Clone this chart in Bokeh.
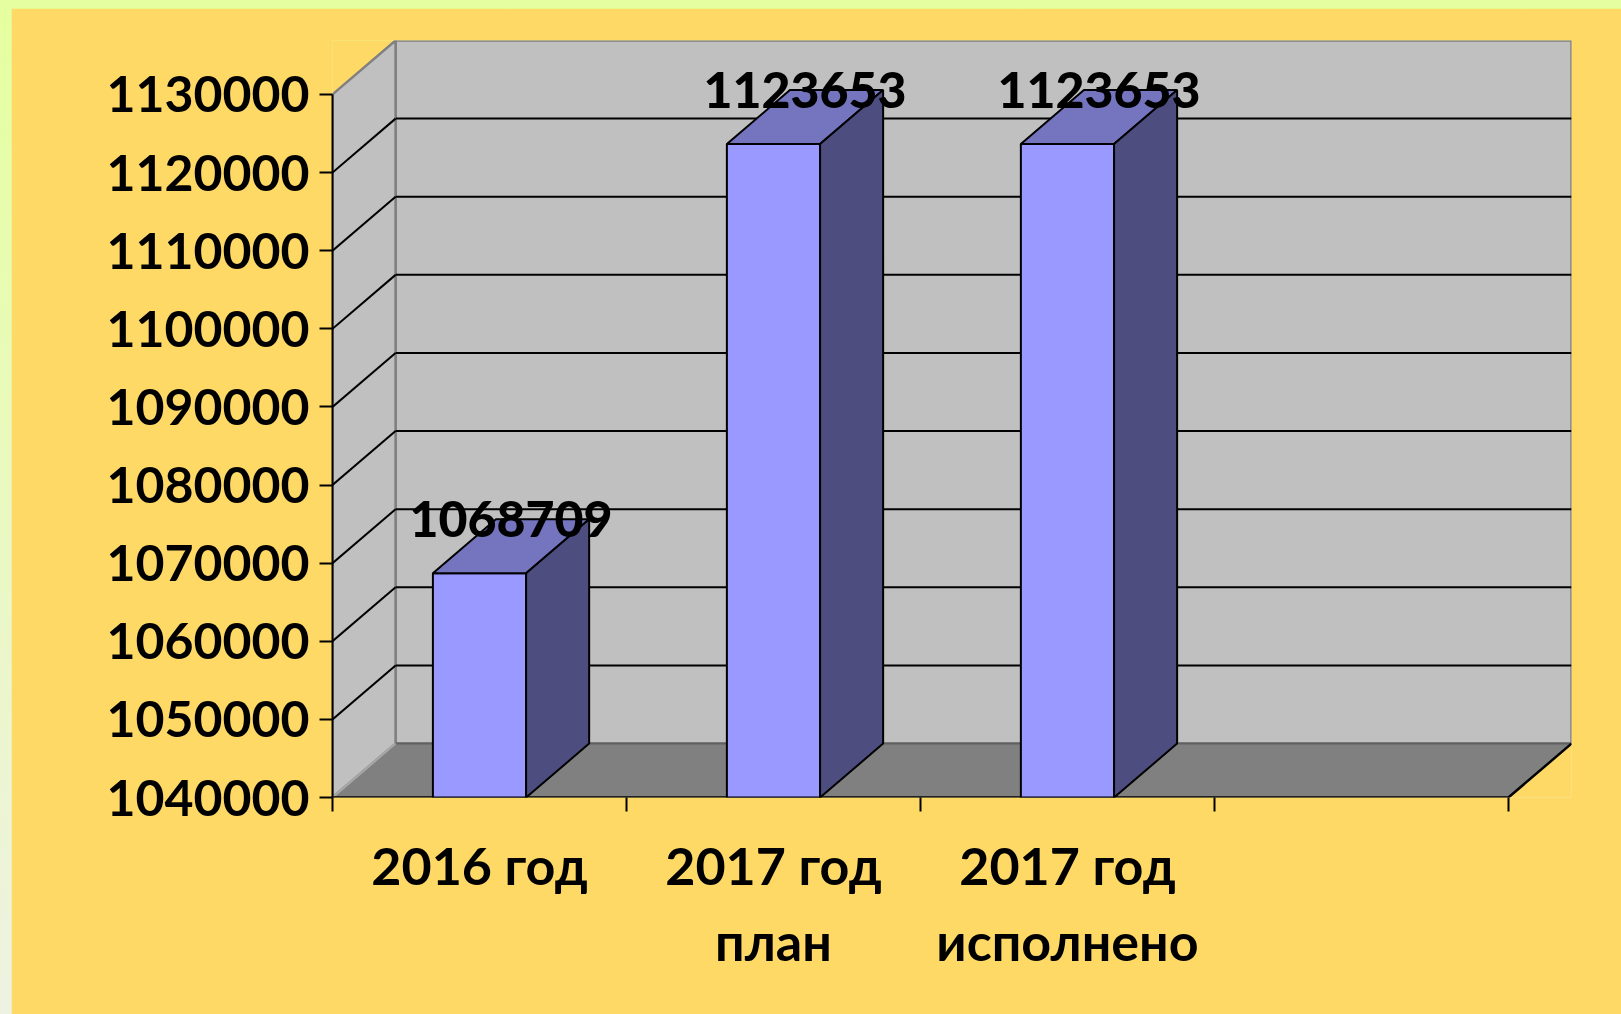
from bokeh.plotting import figure
from bokeh.models import Range1d, FixedTicker, BasicTickFormatter, ColumnDataSource, LabelSet
from bokeh.layouts import column
from bokeh.core.properties import value
from bokeh.embed import file_html
from bokeh.resources import INLINE

# ---- data ----
categories = ["2016 год", "2017 год\nплан", "2017 год\nисполнено", ""]
values = [1068709, 1123653, 1123653]
labels = ["1068709", "1123653", "1123653"]
y_ticks = [1040000, 1050000, 1060000, 1070000, 1080000,
           1090000, 1100000, 1110000, 1120000, 1130000]

# ---- styling / 3-D projection constants ----
Y0 = y_ticks[0]
YMAX = y_ticks[-1]
NCAT = len(categories)
DX = 0.2145      # depth offset in category units
DY = 6900        # depth offset in value units
HALF = 0.1585    # half bar width in category units

YELLOW = "#FFD966"
WALL = "#C0C0C0"
FLOOR = "#808080"
FRONT = "#9999FF"
TOP = "#7474BF"
SIDE = "#4D4D80"
FONT = "Lato"

p = figure(width=1610, height=1006, output_backend="svg", toolbar_location=None,
           x_range=Range1d(0, NCAT + DX), y_range=Range1d(Y0, YMAX + DY),
           min_border_left=321, min_border_right=50, min_border_top=32,
           min_border_bottom=217)
p.background_fill_color = YELLOW
p.border_fill_color = YELLOW
p.outline_line_color = None
p.grid.visible = False

# back wall
p.quad(left=[DX], right=[NCAT + DX], bottom=[Y0 + DY], top=[YMAX + DY],
       fill_color=WALL, line_color="#808080", line_width=2.5)
# side wall
p.patch([0, DX, DX, 0], [Y0, Y0 + DY, YMAX + DY, YMAX],
        fill_color=WALL, line_color="#808080", line_width=2.5)
# grid lines
inner = y_ticks[1:-1]
p.segment(x0=[DX] * len(inner), y0=[t + DY for t in inner],
          x1=[NCAT + DX] * len(inner), y1=[t + DY for t in inner],
          line_color="black", line_width=2)
p.segment(x0=[0] * len(inner), y0=inner, x1=[DX] * len(inner),
          y1=[t + DY for t in inner], line_color="black", line_width=2)
# floor
p.patch([0, NCAT, NCAT + DX, DX], [Y0, Y0, Y0 + DY, Y0 + DY],
        fill_color=FLOOR, line_color=None)
p.line([DX, NCAT + DX], [Y0 + DY, Y0 + DY], line_color="#606060", line_width=2)
p.line([0, DX], [Y0, Y0 + DY], line_color="#A8A8A8", line_width=2)
p.line([0, NCAT, NCAT + DX], [Y0, Y0, Y0 + DY], line_color="black", line_width=2.5)

# bars
centers = [i + 0.5 for i in range(len(values))]
for c, v in zip(centers, values):
    x0, x1 = c - HALF, c + HALF
    p.quad(left=[x0], right=[x1], bottom=[Y0], top=[v],
           fill_color=FRONT, line_color="black", line_width=2)
    p.patch([x0, x1, x1 + DX, x0 + DX], [v, v, v + DY, v + DY],
            fill_color=TOP, line_color="black", line_width=2)
    p.patch([x1, x1 + DX, x1 + DX, x1], [Y0, Y0 + DY, v + DY, v],
            fill_color=SIDE, line_color="black", line_width=2)

# data labels
src = ColumnDataSource(dict(x=[c + DX / 2 for c in centers],
                            y=[v + DY / 2 for v in values], t=labels))
lbl = LabelSet(x="x", y="y", text="t", source=src, text_align="center",
               text_baseline="alphabetic", text_font=value("Lato Heavy, Lato"),
               text_font_style="bold", text_font_size="50px",
               text_color="black", y_offset=9)
p.add_layout(lbl)

# y axis
ya = p.yaxis[0]
ya.ticker = FixedTicker(ticks=y_ticks)
ya.formatter = BasicTickFormatter(use_scientific=False)
ya.bounds = (Y0, YMAX)
ya.axis_line_color = "black"
ya.axis_line_width = 2
ya.major_tick_line_color = "black"
ya.major_tick_line_width = 2
ya.major_tick_out = 13
ya.major_tick_in = 0
ya.minor_tick_line_color = None
ya.major_label_standoff = 10
ya.major_label_text_font = FONT
ya.major_label_text_font_style = "bold"
ya.major_label_text_font_size = "50px"
ya.major_label_text_color = "black"

# x axis
xa = p.xaxis[0]
xa.ticker = FixedTicker(ticks=[i + 0.5 for i in range(NCAT)],
                        minor_ticks=list(range(NCAT + 1)))
xa.major_label_overrides = {i + 0.5: categories[i] for i in range(NCAT)}
xa.axis_line_color = None
xa.major_tick_line_color = None
xa.major_tick_out = 0
xa.major_tick_in = 0
xa.minor_tick_line_color = "black"
xa.minor_tick_line_width = 2
xa.minor_tick_out = 14
xa.minor_tick_in = 0
xa.major_label_standoff = 22
xa.major_label_text_font = FONT
xa.major_label_text_font_style = "bold"
xa.major_label_text_font_size = "52px"
xa.major_label_text_color = "black"
xa.major_label_text_line_height = 1.24

layout = column(p, styles={"background": "linear-gradient(to bottom, #E5FF9F, #EEF2E2)",
                           "padding-left": "11px", "padding-top": "8px"})

open("out.html", "w").write(file_html(layout, INLINE))
